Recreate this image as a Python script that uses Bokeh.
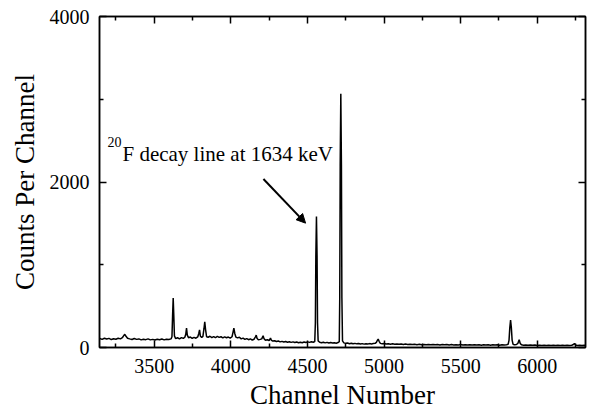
from bokeh.plotting import figure
from bokeh.models import Range1d, LinearAxis, FixedTicker, Label, Arrow, NormalHead, CustomJSTickFormatter
from bokeh.embed import file_html
from bokeh.resources import INLINE

channels = [
    3145, 3160, 3175, 3190, 3205, 3220, 3235, 3250, 3265, 3280, 3292, 3300, 3308, 3316, 3326, 3340,
    3355, 3370, 3385, 3400, 3415, 3430, 3445, 3460, 3475, 3490, 3505, 3520, 3535, 3550, 3565, 3580,
    3595, 3610, 3616, 3620, 3624, 3628, 3632, 3640, 3652, 3665, 3678, 3690, 3700, 3706, 3711, 3716,
    3724, 3736, 3748, 3760, 3772, 3784, 3791, 3796, 3801, 3810, 3818, 3825, 3830, 3835, 3842, 3852,
    3864, 3876, 3888, 3900, 3912, 3924, 3936, 3948, 3960, 3972, 3984, 3996, 4008, 4014, 4020, 4026,
    4033, 4044, 4056, 4068, 4080, 4092, 4104, 4116, 4128, 4140, 4152, 4161, 4166, 4171, 4180, 4192,
    4202, 4207, 4211, 4216, 4226, 4238, 4250, 4255, 4259, 4264, 4274, 4286, 4298, 4310, 4322, 4334,
    4346, 4358, 4370, 4382, 4394, 4406, 4418, 4430, 4442, 4454, 4466, 4478, 4490, 4502, 4514, 4526,
    4538, 4548, 4552, 4555, 4559, 4563, 4566, 4570, 4580, 4592, 4604, 4616, 4628, 4640, 4652, 4664,
    4676, 4688, 4700, 4708, 4711, 4714, 4718, 4722, 4725, 4729, 4738, 4750, 4762, 4774, 4786, 4798,
    4810, 4822, 4834, 4846, 4858, 4870, 4882, 4894, 4906, 4918, 4930, 4942, 4950, 4956, 4962, 4968,
    4976, 4988, 5000, 5014, 5028, 5042, 5056, 5070, 5084, 5098, 5112, 5126, 5140, 5155, 5170, 5185,
    5200, 5215, 5230, 5245, 5260, 5275, 5290, 5305, 5320, 5335, 5350, 5365, 5380, 5395, 5410, 5425,
    5440, 5455, 5470, 5485, 5500, 5515, 5530, 5545, 5560, 5575, 5590, 5605, 5620, 5635, 5650, 5665,
    5680, 5695, 5710, 5725, 5740, 5755, 5770, 5785, 5800, 5810, 5816, 5821, 5826, 5831, 5836, 5842,
    5852, 5864, 5874, 5882, 5889, 5898, 5910, 5925, 5940, 5955, 5970, 5985, 6000, 6015, 6030, 6045,
    6060, 6075, 6090, 6105, 6120, 6135, 6150, 6165, 6180, 6195, 6210, 6225, 6236, 6243, 6250, 6262,
    6277, 6292, 6307, 6315,
]
counts = [
    108, 98, 112, 102, 110, 96, 106, 100, 112, 104, 118, 140, 160, 135, 112, 104,
    96, 108, 98, 104, 92, 100, 95, 104, 92, 98, 90, 100, 94, 102, 92, 100,
    96, 104, 130, 380, 598, 380, 140, 108, 118, 104, 120, 110, 124, 160, 234, 150,
    118, 126, 110, 122, 112, 128, 170, 214, 140, 122, 135, 230, 311, 220, 130, 124,
    136, 120, 132, 118, 134, 122, 130, 116, 128, 118, 126, 114, 130, 180, 234, 170,
    126, 116, 124, 104, 114, 98, 108, 94, 104, 90, 100, 130, 150, 112, 92, 98,
    104, 125, 141, 110, 88, 94, 84, 100, 113, 90, 78, 82, 72, 78, 68, 74,
    66, 72, 64, 70, 62, 68, 60, 66, 58, 64, 58, 66, 60, 68, 62, 70,
    64, 72, 300, 1100, 1584, 1100, 300, 80, 64, 58, 64, 56, 62, 54, 60, 54,
    58, 52, 60, 70, 600, 2200, 3065, 2200, 600, 80, 56, 50, 54, 46, 52, 45,
    50, 44, 48, 42, 47, 41, 46, 42, 47, 43, 48, 50, 62, 85, 101, 75,
    50, 44, 48, 42, 46, 40, 44, 39, 43, 38, 42, 37, 41, 36, 40, 35,
    39, 34, 38, 33, 37, 32, 36, 33, 37, 32, 36, 31, 35, 32, 36, 31,
    35, 30, 34, 31, 35, 30, 34, 29, 33, 30, 34, 29, 33, 28, 32, 29,
    33, 28, 32, 29, 33, 28, 32, 30, 34, 38, 90, 240, 331, 240, 90, 40,
    32, 36, 50, 93, 48, 32, 28, 31, 27, 30, 26, 29, 25, 28, 24, 27,
    23, 26, 24, 27, 23, 26, 24, 27, 23, 26, 24, 27, 36, 48, 30, 24,
    27, 23, 26, 24,
]

x_major = [3500, 4000, 4500, 5000, 5500, 6000]
x_minor = [3250, 3750, 4250, 4750, 5250, 5750, 6250]
y_major = [0, 2000, 4000]
y_minor = [1000, 3000]

annotation_text = "F decay line at 1634 keV"
annotation_sup = "20"

FONT = "Liberation Serif"

p = figure(frame_width=486, frame_height=331, output_backend="svg", toolbar_location=None,
           x_range=Range1d(3143, 6315), y_range=Range1d(0, 4000),
           min_border_left=99, min_border_top=16, min_border_right=4, min_border_bottom=62)
p.xgrid.visible = False
p.ygrid.visible = False
p.outline_line_color = "black"
p.outline_line_width = 1.5
p.background_fill_color = "white"
p.border_fill_color = "white"


def style(ax, ticks, minor):
    ax.ticker = FixedTicker(ticks=ticks, minor_ticks=minor)
    ax.major_tick_in = 7
    ax.major_tick_out = 0
    ax.minor_tick_in = 4
    ax.minor_tick_out = 0
    ax.axis_line_width = 1.5
    ax.axis_line_color = "black"
    ax.major_tick_line_width = 1.5
    ax.minor_tick_line_width = 1.5
    ax.major_tick_line_color = "black"
    ax.minor_tick_line_color = "black"
    ax.major_label_text_font = FONT
    ax.major_label_text_font_size = "20px"
    ax.major_label_text_color = "black"
    ax.axis_label_text_font = FONT
    ax.axis_label_text_font_size = "27px"
    ax.axis_label_text_font_style = "normal"
    ax.axis_label_text_color = "black"


xa = p.xaxis[0]
ya = p.yaxis[0]
style(xa, x_major, x_minor)
style(ya, y_major, y_minor)
xa.axis_label = "Channel Number"
ya.axis_label = "Counts Per Channel"
xa.major_label_standoff = 11
ya.major_label_standoff = 10
xa.axis_label_standoff = 4
ya.axis_label_standoff = 7

blank = "return ''"
top = LinearAxis(formatter=CustomJSTickFormatter(code=blank), major_label_standoff=0)
right = LinearAxis(formatter=CustomJSTickFormatter(code=blank), major_label_standoff=0)
style(top, x_major, x_minor)
style(right, y_major, y_minor)
p.add_layout(top, "above")
p.add_layout(right, "right")

p.line(channels, counts, line_color="black", line_width=1.5)

p.add_layout(Label(x=3293, y=2340, text=annotation_text, text_font=FONT, text_font_size="21px",
                   text_baseline="alphabetic", text_color="black"))
p.add_layout(Label(x=3195, y=2485, text=annotation_sup, text_font=FONT, text_font_size="14px",
                   text_baseline="alphabetic", text_color="black"))
p.add_layout(Arrow(end=NormalHead(size=9, fill_color="black", line_color="black"),
                   x_start=4213, y_start=2036, x_end=4488, y_end=1503,
                   line_width=2, line_color="black"))

open("out.html", "w").write(file_html(p, INLINE))
